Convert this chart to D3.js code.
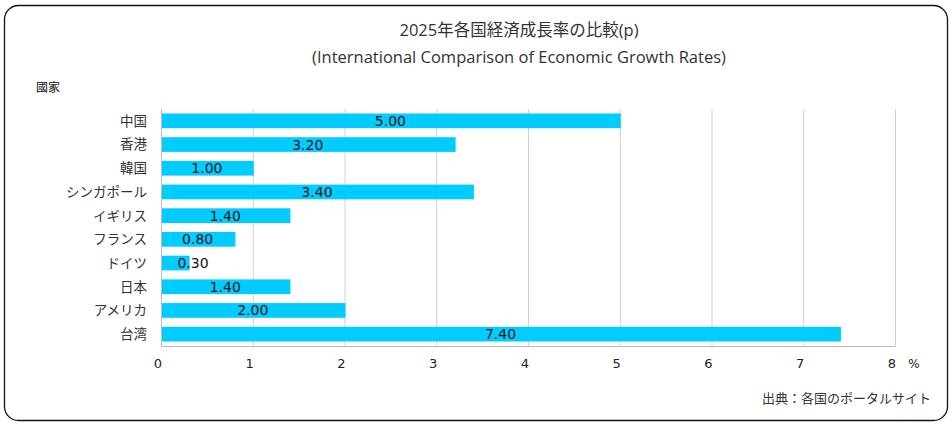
<!DOCTYPE html>
<html>
<head>
<meta charset="utf-8">
<script src="https://cdn.jsdelivr.net/npm/d3@7"></script>
<style>
  body { margin: 0; background: #fff; }
  svg text { fill: #222; }
</style>
</head>
<body>
<div id="chart"></div>
<script>
// data
let countries = ['中国', '香港', '韓国', 'シンガポール', 'イギリス', 'フランス', 'ドイツ', '日本', 'アメリカ', '台湾'];
let growthRates = [5.00, 3.20, 1.00, 3.40, 1.40, 0.80, 0.30, 1.40, 2.00, 7.40];
let xTicks = [0, 1, 2, 3, 4, 5, 6, 7, 8];
let titleLines = ['2025年各国経済成長率の比較(p)', '(International Comparison of Economic Growth Rates)'];

let w = 952, h = 424;
let padding = {top: 109, right: 57, bottom: 78, left: 161};
let width = w - padding.left - padding.right;
let height = h - padding.top - padding.bottom;

let svg = d3.select('#chart').append('svg')
  .attr('width', w)
  .attr('height', h);

// frame
svg.append('rect')
  .attr('x', 4.5).attr('y', 5.5)
  .attr('width', 943).attr('height', 415)
  .attr('rx', 14).attr('ry', 14)
  .style('fill', '#fff')
  .style('stroke', '#111')
  .style('stroke-width', 1.3);

let xScale = d3.scaleLinear().domain([0, 8]).range([0, width]);
let yScale = d3.scaleBand().domain(countries).range([0, height]).paddingInner(0.38).paddingOuter(0.19);

let g = svg.append('g').attr('transform', 'translate(' + padding.left + ',' + padding.top + ')');

// gridlines
g.selectAll('.grid')
  .data(xTicks.slice(1))
  .enter()
  .append('line')
  .attr('x1', d => xScale(d) + 0.5)
  .attr('x2', d => xScale(d) + 0.5)
  .attr('y1', 0)
  .attr('y2', height)
  .style('stroke', '#cfcfcf')
  .style('stroke-width', 1);

// axes lines
g.append('line')
  .attr('x1', 0.5).attr('x2', 0.5).attr('y1', 0).attr('y2', height)
  .style('stroke', '#bbb');
g.append('line')
  .attr('x1', 0).attr('x2', width + 0.5).attr('y1', height + 0.5).attr('y2', height + 0.5)
  .style('stroke', '#bbb');

// bars
g.selectAll('rect.bar')
  .data(growthRates)
  .enter()
  .append('rect')
  .attr('class', 'bar')
  .attr('x', 1)
  .attr('y', (d, i) => yScale(countries[i]))
  .attr('width', d => xScale(d))
  .attr('height', yScale.bandwidth())
  .style('fill', '#00ccff');

// value labels
g.selectAll('text.value')
  .data(growthRates)
  .enter()
  .append('text')
  .attr('class', 'value')
  .text(d => d.toFixed(2))
  .attr('x', d => Math.max(xScale(d) / 2, 32))
  .attr('y', (d, i) => yScale(countries[i]) + yScale.bandwidth() / 2)
  .attr('dy', '0.36em')
  .attr('text-anchor', 'middle')
  .style('font-family', '"DejaVu Sans", Verdana, sans-serif')
  .style('font-size', '14px')
  .style('fill', '#111');

// category labels
g.selectAll('text.cat')
  .data(countries)
  .enter()
  .append('text')
  .attr('class', 'cat')
  .text(d => d)
  .attr('x', -14)
  .attr('y', d => yScale(d) + yScale.bandwidth() / 2)
  .attr('dy', '0.36em')
  .attr('text-anchor', 'end')
  .style('font-family', '"Noto Sans CJK JP", sans-serif')
  .style('font-size', '13.5px')
  .style('fill', '#333');

// x tick labels
g.selectAll('text.tick')
  .data(xTicks)
  .enter()
  .append('text')
  .attr('class', 'tick')
  .text(d => d)
  .attr('x', d => xScale(d) - 3)
  .attr('y', height + 22)
  .attr('text-anchor', 'middle')
  .style('font-family', '"DejaVu Sans", Verdana, sans-serif')
  .style('font-size', '13px')
  .style('fill', '#222');

svg.append('text')
  .text('%')
  .attr('x', 914)
  .attr('y', padding.top + height + 22)
  .attr('text-anchor', 'middle')
  .style('font-family', '"DejaVu Sans", sans-serif')
  .style('font-size', '12px');

// titles
svg.selectAll('text.title')
  .data(titleLines)
  .enter()
  .append('text')
  .attr('class', 'title')
  .text(d => d)
  .attr('x', 519)
  .attr('y', (d, i) => 36 + i * 27)
  .attr('text-anchor', 'middle')
  .style('font-family', '"Open Sans", "Noto Sans CJK JP", sans-serif')
  .style('font-size', '16.5px')
  .style('fill', '#333');

// axis title
svg.append('text')
  .text('國家')
  .attr('x', 36)
  .attr('y', 92)
  .style('font-family', '"Noto Sans CJK JP", sans-serif')
  .style('font-size', '12px')
  .style('fill', '#111');

// source
svg.append('text')
  .text('出典：各国のポータルサイト')
  .attr('x', 931)
  .attr('y', 403)
  .attr('text-anchor', 'end')
  .style('font-family', '"Noto Sans CJK JP", sans-serif')
  .style('font-size', '13px')
  .style('fill', '#333');
</script>
</body>
</html>
